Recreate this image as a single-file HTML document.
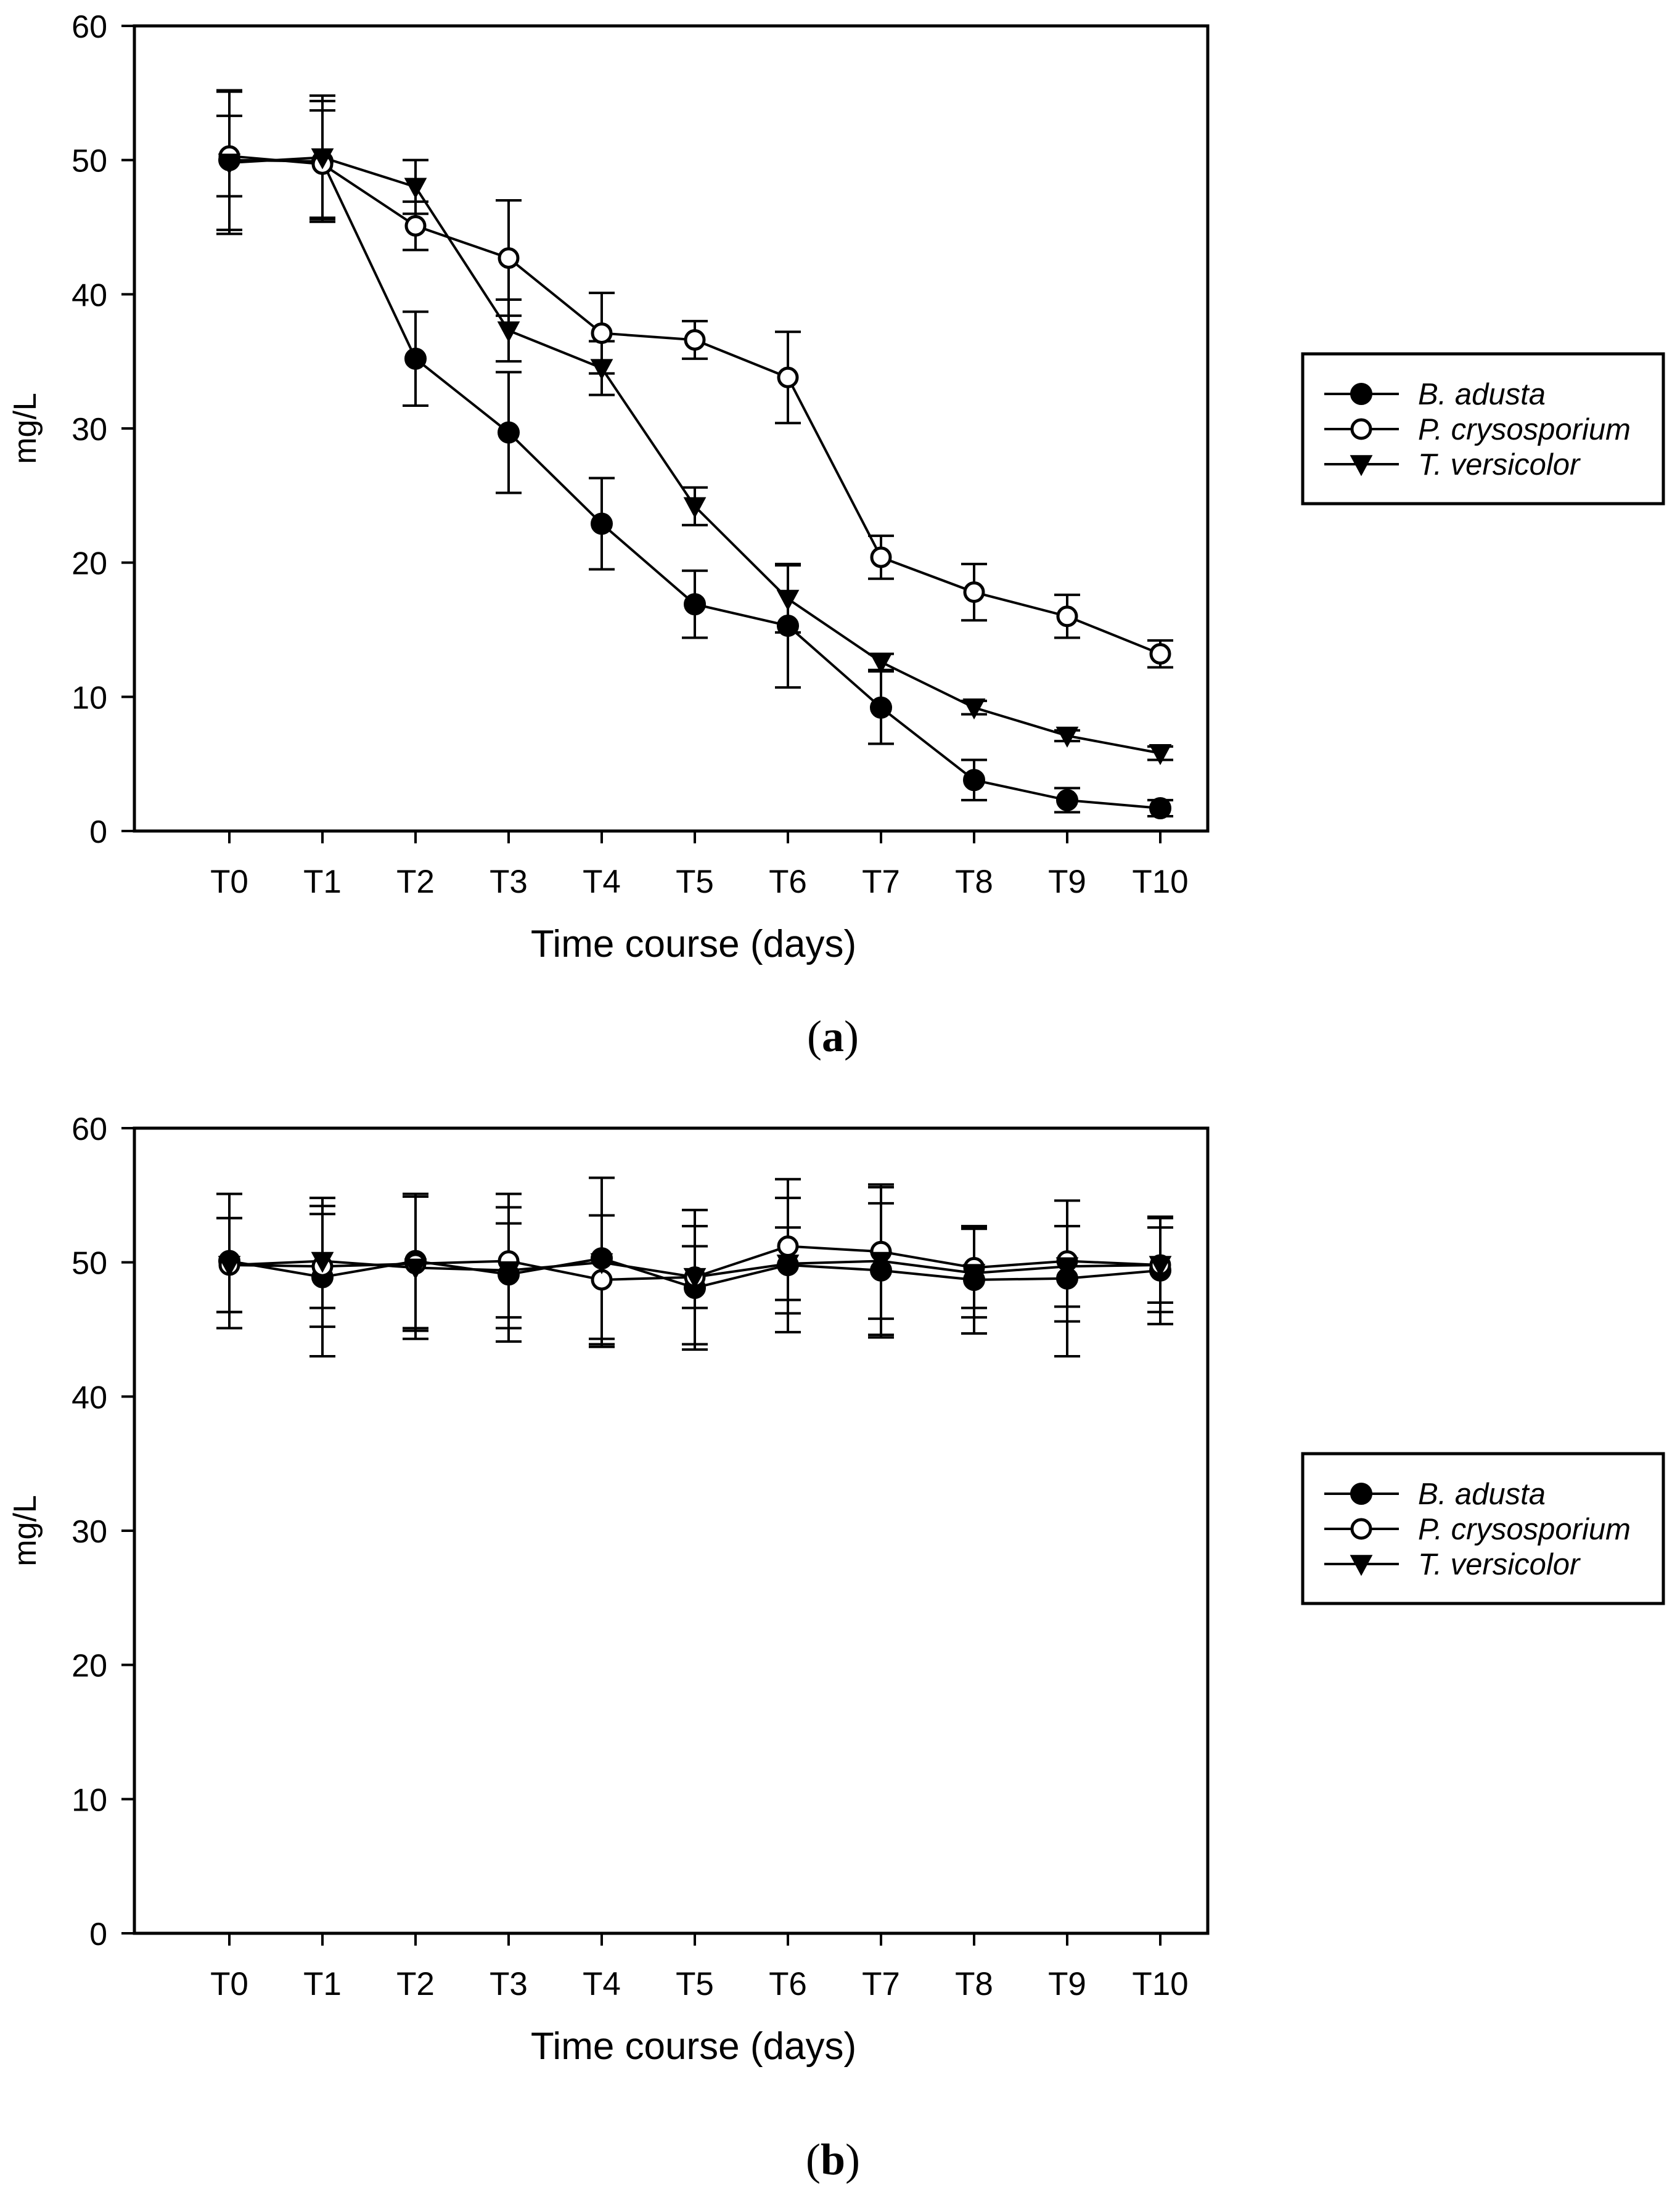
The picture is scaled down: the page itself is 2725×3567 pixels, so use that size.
<!DOCTYPE html>
<html><head><meta charset="utf-8"><style>
html,body{margin:0;padding:0;background:#fff;}
svg{display:block;font-family:"Liberation Sans",Arial,sans-serif;}
</style></head>
<body>
<svg id="fig" width="2725" height="3567" viewBox="0 0 2725 3567" xmlns="http://www.w3.org/2000/svg"></svg>
<script>
const categories = ["T0","T1","T2","T3","T4","T5","T6","T7","T8","T9","T10"];
const yTicks = [0,10,20,30,40,50,60];
const seriesNames = ["B. adusta","P. crysosporium","T. versicolor"];
// Panel (a)
const aBadusta = [50.0,49.9,35.2,29.7,22.9,16.9,15.3,9.2,3.8,2.3,1.7];
const aBadustaErr = [5.2,4.5,3.5,4.5,3.4,2.5,4.6,2.7,1.5,0.9,0.6];
const aPcryso = [50.3,49.7,45.1,42.7,37.1,36.6,33.8,20.4,17.8,16.0,13.2];
const aPcrysoErr = [3.0,4.0,1.8,4.3,3.0,1.4,3.4,1.6,2.1,1.6,1.0];
const aTvers = [49.8,50.2,48.0,37.3,34.5,24.2,17.3,12.6,9.2,7.1,5.8];
const aTversErr = [5.3,4.6,2.0,2.3,2.0,1.4,2.5,0.6,0.5,0.4,0.5];
// Panel (b)
const bBadusta = [50.1,48.9,50.1,49.1,50.3,48.1,49.8,49.4,48.7,48.8,49.4];
const bBadustaErr = [5.0,5.9,5.0,5.0,6.0,4.6,5.0,5.0,4.0,5.8,4.0];
const bPcryso = [49.8,49.7,49.9,50.1,48.7,48.9,51.2,50.8,49.6,50.1,49.8];
const bPcrysoErr = [3.5,4.5,5.0,5.0,4.8,5.0,5.0,5.0,3.0,4.5,3.5];
const bTvers = [49.8,50.1,49.6,49.4,50.0,48.9,49.9,50.1,49.2,49.7,49.8];
const bTversErr = [3.5,3.5,5.3,3.5,6.3,2.3,2.7,5.5,3.3,3.0,2.8];

const NS="http://www.w3.org/2000/svg";
const svg=document.getElementById('fig');
function mk(tag,attrs,parent,text){const e=document.createElementNS(NS,tag);for(const k in attrs)e.setAttribute(k,attrs[k]);if(text!==undefined)e.textContent=text;(parent||svg).appendChild(e);return e;}

function marker(g,kind,x,y,r){
  let m;
  if(kind===0){m=mk('circle',{cx:x,cy:y,r:r,fill:'#000',stroke:'#000','stroke-width':4},g);}
  else if(kind===1){m=mk('circle',{cx:x,cy:y,r:r-1,fill:'#fff',stroke:'#000','stroke-width':5},g);}
  else {const s=r*1.15;m=mk('polygon',{points:`${x-s},${y-s*0.8} ${x+s},${y-s*0.8} ${x},${y+s*1.05}`,fill:'#000'},g);}
  return m;
}

function panel(off,label,sets,labelShift){
  const L=218,R=1959,T=42+off,B=1348+off;
  const xS=i=>372+i*151;
  const yS=v=>B-(v/60)*(B-T);
  const g=mk('g',{});
  
  
  const frame=mk('rect',{x:L,y:T,width:R-L,height:B-T,fill:'none',stroke:'#000','stroke-width':5},g);
  
  
  yTicks.forEach(v=>{
    const y=yS(v);
    const t=mk('line',{x1:L-21,y1:y,x2:L,y2:y,stroke:'#000','stroke-width':4},g);
    
    
    const tx=mk('text',{x:174,y:y+19,'text-anchor':'end','font-size':52},g,String(v));
    
    
  });
  categories.forEach((c,i)=>{
    const x=xS(i);
    const t=mk('line',{x1:x,y1:B,x2:x,y2:B+20,stroke:'#000','stroke-width':4},g);
    
    
    const tx=mk('text',{x:x,y:B+100,'text-anchor':'middle','font-size':53},g,c);
    
    
  });
  const yt=mk('text',{x:0,y:0,'text-anchor':'middle','font-size':52,transform:`translate(58,${(T+B)/2}) rotate(-90)`},g,'mg/L');
  
  
  const xt=mk('text',{x:1125,y:B+204,'text-anchor':'middle','font-size':62},g,'Time course (days)');
  
  
  const pl=mk('text',{x:1351,y:B+357+labelShift,'text-anchor':'middle','font-size':72,'font-family':'"Liberation Serif",serif'},g,'');
  
  
  mk('tspan',{},pl,'(');mk('tspan',{'font-weight':'bold'},pl,label);mk('tspan',{},pl,')');

  sets.forEach((s,k)=>{
    const sg=mk('g',{},g);
    
    
    s.vals.forEach((v,i)=>{
      const x=xS(i),e=s.err[i];
      const eb=mk('path',{d:`M${x},${yS(v+e)}V${yS(v-e)}M${x-21},${yS(v+e)}H${x+21}M${x-21},${yS(v-e)}H${x+21}`,stroke:'#000','stroke-width':4,fill:'none'},sg);
      
      
    });
    const pts=s.vals.map((v,i)=>xS(i)+','+yS(v)).join(' ');
    const ln=mk('polyline',{points:pts,fill:'none',stroke:'#000','stroke-width':4},sg);
    
    
  });
  sets.forEach((s,k)=>{
    s.vals.forEach((v,i)=>{
      const m=marker(g,k,xS(i),yS(v),16);
      
      
    });
  });
  const ly=574+off-(off?4:0);
  const lg=mk('g',{},svg);
  
  
  const lb=mk('rect',{x:2113,y:ly,width:585,height:243,fill:'#fff',stroke:'#000','stroke-width':5},lg);
  
  
  seriesNames.forEach((n,k)=>{
    const cy=ly+65+k*57;
    const e=mk('g',{},lg);
    
    
    mk('line',{x1:2148,y1:cy,x2:2269,y2:cy,stroke:'#000','stroke-width':4},e);
    marker(e,k,2208,cy,16);
    mk('text',{x:2300,y:cy+17,'font-size':49,'font-style':'italic'},e,n);
  });
}
panel(0,'a',[{vals:aBadusta,err:aBadustaErr},{vals:aPcryso,err:aPcrysoErr},{vals:aTvers,err:aTversErr}],0);
panel(1788,'b',[{vals:bBadusta,err:bBadustaErr},{vals:bPcryso,err:bPcrysoErr},{vals:bTvers,err:bTversErr}],34);
</script>
</body></html>
